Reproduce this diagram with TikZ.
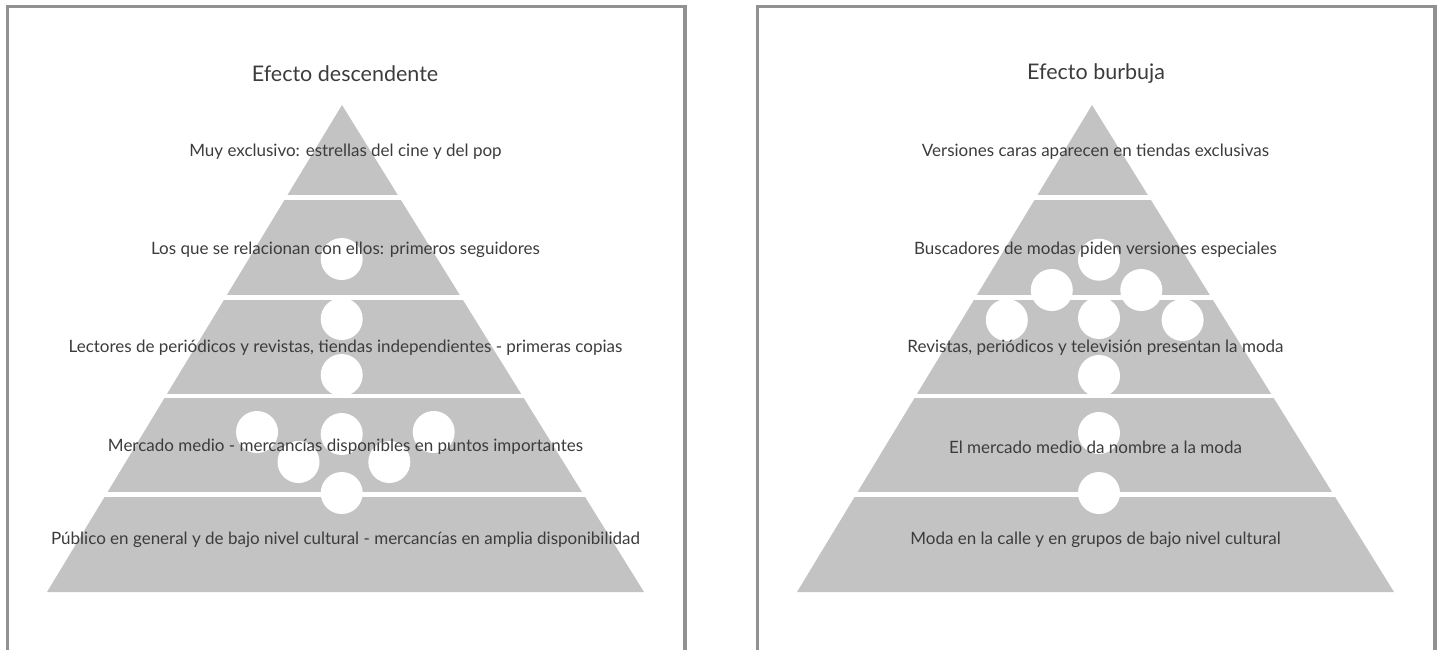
\documentclass[tikz,border=0pt]{standalone}
\usepackage{fontspec}
\setmainfont{Lato}
\usetikzlibrary{calc}
\definecolor{grisCapa}{RGB}{195,195,195}
\definecolor{grisMarco}{RGB}{145,145,145}
\definecolor{grisLetra}{RGB}{60,60,60}

\begin{document}
\begin{tikzpicture}[x=1pt, y=-1pt,
    marco/.style={draw=grisMarco, line width=3.5pt},
    titulo/.style={text=grisLetra, font=\fontsize{21.5}{24}\selectfont},
    nivel/.style={text=grisLetra, font=\fontsize{17}{20}\selectfont, inner sep=0pt},
    corte/.style={draw=white, line width=4.5pt},
    burbuja/.style={circle, fill=white, minimum size=42pt, inner sep=0pt}]
    \useasboundingbox (0,0) rectangle (1442,649);

    % 左: Efecto descendente
    \begin{scope}
      \draw[marco] (7.5,660) -- (7.5,6.5) -- (685,6.5) -- (685,660);
      \node[titulo] (tituloA) at (345,74) {Efecto descendente};

      % 金字塔
      \coordinate (A) at (342,105);
      \coordinate (L) at (47,592);
      \coordinate (R) at (644,592);
      \fill[grisCapa] (A) -- (L) -- (R) -- cycle;

      % 分层白线
      \foreach \f in {0.19,0.395,0.598,0.80}
        \draw[corte] ($(A)!\f!(L)+(-5,0)$) -- ($(A)!\f!(R)+(5,0)$);

      % 白色圆
      \foreach \x/\y [count=\i] in {341.7/259, 341.7/319, 341.7/375,
        257/432, 341.7/434, 433.7/432, 298.5/462, 389.3/462, 341.7/493}
        \node[burbuja] (a\i) at (\x,\y) {};

      % 文字
      \node[nivel] (a-n1) at (345.5,152) {Muy exclusivo: estrellas del cine y del pop};
      \node[nivel] (a-n2) at (345.5,250) {Los que se relacionan con ellos: primeros seguidores};
      \node[nivel] (a-n3) at (345.5,348) {Lectores de periódicos y revistas, tiendas independientes - primeras copias};
      \node[nivel] (a-n4) at (345.5,447) {Mercado medio - mercancías disponibles en puntos importantes};
      \node[nivel] (a-n5) at (345.5,540) {Público en general y de bajo nivel cultural - mercancías en amplia disponibilidad};
    \end{scope}

    % 右: Efecto burbuja
    \begin{scope}[shift={(750,0)}]
      \draw[marco] (7.5,660) -- (7.5,6.5) -- (685,6.5) -- (685,660);
      \node[titulo] (tituloB) at (346,74) {Efecto burbuja};

      % 金字塔
      \coordinate (A) at (342,105);
      \coordinate (L) at (47,592);
      \coordinate (R) at (644,592);
      \fill[grisCapa] (A) -- (L) -- (R) -- cycle;

      % 分层白线
      \foreach \f in {0.19,0.395,0.598,0.80}
        \draw[corte] ($(A)!\f!(L)+(-5,0)$) -- ($(A)!\f!(R)+(5,0)$);

      % 白色圆
      \foreach \x/\y [count=\i] in {349/259.7, 301.8/290, 391.3/290,
        256.8/320, 349/318, 432.6/320, 349/376, 349/433, 349/493}
        \node[burbuja] (b\i) at (\x,\y) {};

      % 文字
      \node[nivel] (b-n1) at (345.5,152) {Versiones caras aparecen en tiendas exclusivas};
      \node[nivel] (b-n2) at (345.5,250) {Buscadores de modas piden versiones especiales};
      \node[nivel] (b-n3) at (345.5,348) {Revistas, periódicos y televisión presentan la moda};
      \node[nivel] (b-n4) at (345.5,447) {El mercado medio da nombre a la moda};
      \node[nivel] (b-n5) at (345.5,540) {Moda en la calle y en grupos de bajo nivel cultural};
    \end{scope}
  \end{tikzpicture}
\end{document}
